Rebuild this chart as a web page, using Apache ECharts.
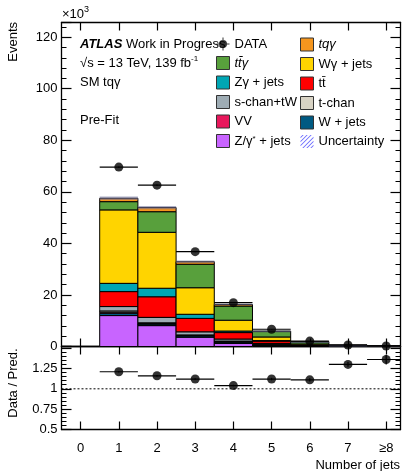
<!DOCTYPE html>
<html><head><meta charset="utf-8">
<script src="https://cdn.jsdelivr.net/npm/echarts@6.0.0/dist/echarts.min.js"></script>
<style>html,body{margin:0;padding:0;background:#fff}#c{width:405px;height:471px}</style>
</head><body><div id="c"></div>
<script>
// ---- data (thousands of events) ----
const bins = [0, 1, 2, 3, 4, 5, 6, 7, 8];
const xTickLabels = ['0', '1', '2', '3', '4', '5', '6', '7', '\u22658'];
const dataEvents = [0, 69.6, 62.6, 36.8, 17.0, 6.7, 2.1, 0.6, 0.2];
const dataErr    = [0, 0.26, 0.25, 0.19, 0.13, 0.08, 0.05, 0.02, 0.01];
const zgammaStarJets = [0, 12.0, 8.1, 3.6, 1.2, 0.4, 0.10, 0.02, 0.01];
const wJets          = [0, 0.9, 0.6, 0.5, 0.5, 0.2, 0.05, 0.01, 0.0];
const vv             = [0, 0.4, 0.2, 0.2, 0.2, 0.1, 0.03, 0.01, 0.0];
const tChan          = [0, 0.5, 0.3, 0.2, 0.2, 0.1, 0.03, 0.01, 0.0];
const sChanTW        = [0, 1.7, 2.1, 1.2, 0.8, 0.4, 0.10, 0.03, 0.01];
const ttbar          = [0, 5.8, 8.0, 5.2, 2.5, 0.9, 0.25, 0.06, 0.02];
const zgammaJets     = [0, 3.2, 3.3, 1.6, 0.6, 0.2, 0.05, 0.01, 0.0];
const wgammaJets     = [0, 28.5, 21.7, 10.3, 4.2, 1.4, 0.35, 0.08, 0.02];
const ttgamma        = [0, 3.2, 8.0, 9.1, 5.5, 2.1, 0.85, 0.21, 0.08];
const tqgamma        = [0, 1.3, 1.6, 1.0, 0.6, 0.2, 0.09, 0.02, 0.01];
const ratio    = [null, 1.21, 1.16, 1.12, 1.04, 1.12, 1.11, 1.30, 1.36];
const ratioErr = [0, 0.01, 0.01, 0.01, 0.01, 0.015, 0.02, 0.03, 0.06];
const mcRelUnc = [0, 0.012, 0.012, 0.014, 0.018, 0.025, 0.04, 0.06, 0.08];
const mainTickLabels = [0, 20, 40, 60, 80, 100, 120];
const ratioTickLabels = [0.5, 0.75, 1, 1.25];

// stack order bottom -> top
const comps = [
  {name: 'Z/\u03b3* + jets', vals: zgammaStarJets, color: '#c864ff'},
  {name: 'W + jets',          vals: wJets,          color: '#005a82'},
  {name: 'VV',                vals: vv,             color: '#e8185c'},
  {name: 't-chan',            vals: tChan,          color: '#d8d3c4'},
  {name: 's-chan+tW',         vals: sChanTW,        color: '#9eacb4'},
  {name: 'tt\u0304',          vals: ttbar,          color: '#ff0000'},
  {name: 'Z\u03b3 + jets',    vals: zgammaJets,     color: '#00a6b4'},
  {name: 'W\u03b3 + jets',    vals: wgammaJets,     color: '#ffd400'},
  {name: 'tt\u0304\u03b3',    vals: ttgamma,        color: '#58a03c'},
  {name: 'tq\u03b3',          vals: tqgamma,        color: '#f5961e'}
];

const FONT = 'Liberation Sans, Arial, Helvetica, sans-serif';
const chart = echarts.init(document.getElementById('c'), null, {renderer: 'canvas'});

function clipTo(rect, cs) {
  return echarts.graphic.clipRectByRect(rect, {x: cs.x, y: cs.y, width: cs.width, height: cs.height});
}
function binRender(params, api) {
  const x = api.value(0), y0 = api.value(1), y1 = api.value(2);
  if (!(y1 > y0)) return null;
  const p0 = api.coord([x - 0.5, y1]);
  const p1 = api.coord([x + 0.5, y0]);
  const r = clipTo({x: p0[0], y: p0[1], width: p1[0] - p0[0], height: p1[1] - p0[1]}, params.coordSys);
  if (!r) return null;
  return {type: 'rect', shape: r, style: {fill: api.visual('color'), stroke: '#000', lineWidth: 1}};
}
function uncRender(params, api) {
  const x = api.value(0), lo = api.value(1), hi = api.value(2);
  if (!(hi > lo)) return null;
  const p0 = api.coord([x - 0.5, hi]);
  const p1 = api.coord([x + 0.5, lo]);
  const r = clipTo({x: p0[0], y: p0[1], width: p1[0] - p0[0], height: Math.max(1.5, p1[1] - p0[1])}, params.coordSys);
  if (!r) return null;
  return {type: 'rect', shape: r, style: {fill: 'rgba(110,110,150,0.55)'}};
}
function errRender(params, api) {
  const x = api.value(0), y = api.value(1), e = api.value(2);
  const cs = params.coordSys;
  const c = api.coord([x, y]);
  let xl = api.coord([x - 0.5, y])[0], xr = api.coord([x + 0.5, y])[0];
  xl = Math.max(xl, cs.x); xr = Math.min(xr, cs.x + cs.width);
  const yt = api.coord([x, y + e])[1], yb = api.coord([x, y - e])[1];
  return {type: 'group', children: [
    {type: 'line', shape: {x1: xl, y1: c[1], x2: xr, y2: c[1]}, style: {stroke: '#000', lineWidth: 1.2}},
    {type: 'line', shape: {x1: c[0], y1: yt, x2: c[0], y2: yb}, style: {stroke: '#000', lineWidth: 1.2}}
  ]};
}

const series = [];
const cum = bins.map(() => 0);
comps.forEach(c => {
  const d = bins.map((b, i) => { const lo = cum[i]; cum[i] += c.vals[i]; return [b, lo, cum[i]]; });
  series.push({name: c.name, type: 'custom', xAxisIndex: 0, yAxisIndex: 0, renderItem: binRender,
    itemStyle: {color: c.color}, encode: {x: 0, y: 2}, data: d, z: 2});
});
series.push({name: 'Uncertainty', type: 'custom', xAxisIndex: 0, yAxisIndex: 0, renderItem: uncRender,
  itemStyle: {color: '#7070ff'}, encode: {x: 0, y: 2},
  data: bins.map((b, i) => [b, cum[i] * (1 - mcRelUnc[i]), cum[i] * (1 + mcRelUnc[i])]), z: 3});
const dataPts = bins.map((b, i) => [b, dataEvents[i], dataErr[i]]).filter(p => p[1] > 0);
series.push({name: 'DATA-err', type: 'custom', xAxisIndex: 0, yAxisIndex: 0, renderItem: errRender,
  encode: {x: 0, y: 1}, data: dataPts, z: 4});
series.push({name: 'DATA', type: 'scatter', xAxisIndex: 0, yAxisIndex: 0, symbol: 'circle', symbolSize: 9,
  itemStyle: {color: '#000'}, data: dataPts.map(p => [p[0], p[1]]), z: 5});
const ratioPts = bins.map((b, i) => [b, ratio[i], ratioErr[i]]).filter(p => p[1] != null);
series.push({name: 'ratio-line', type: 'line', xAxisIndex: 2, yAxisIndex: 2, symbol: 'none', silent: true,
  lineStyle: {color: '#000', width: 1, type: [2, 2]}, data: [[-0.5, 1], [8.375, 1]], z: 1});
series.push({name: 'ratio-err', type: 'custom', xAxisIndex: 2, yAxisIndex: 2, renderItem: errRender,
  encode: {x: 0, y: 1}, data: ratioPts, z: 4});
series.push({name: 'ratio', type: 'scatter', xAxisIndex: 2, yAxisIndex: 2, symbol: 'circle', symbolSize: 9,
  itemStyle: {color: '#000'}, data: ratioPts.map(p => [p[0], p[1]]), z: 5});

const tickVals = bins.slice();
function xAx(gridIndex, pos, showLabels) {
  return {type: 'value', gridIndex, position: pos, min: -0.5, max: 8.375,
    axisLine: {show: true, onZero: false, lineStyle: {color: '#000', width: 1.3}},
    axisTick: {show: true, inside: true, length: 8, customValues: tickVals, lineStyle: {color: '#000', width: 1.2}},
    axisLabel: {show: showLabels, customValues: tickVals, margin: 12, color: '#000', fontSize: 13, fontFamily: FONT,
      formatter: v => xTickLabels[Math.round(v)]},
    splitLine: {show: false}};
}
function yAx(gridIndex, pos, min, max, interval, labels) {
  return {type: 'value', gridIndex, position: pos, min, max, interval,
    axisLine: {show: true, onZero: false, lineStyle: {color: '#000', width: 1.3}},
    axisTick: {show: true, inside: true, length: 10, lineStyle: {color: '#000', width: 1.2}},
    minorTick: {show: true, splitNumber: 5, length: 5, lineStyle: {color: '#000', width: 1}},
    axisLabel: {show: !!labels, showMaxLabel: false, margin: 4, color: '#000', fontSize: 13, fontFamily: FONT,
      formatter: v => (labels && labels.some(l => Math.abs(l - v) < 1e-6)) ? String(v) : ''},
    splitLine: {show: false}, minorSplitLine: {show: false}};
}

const legendText = {
  color: '#000', fontSize: 13, fontFamily: FONT, lineHeight: 13,
  rich: {i: {fontStyle: 'italic', fontSize: 13, fontFamily: FONT, color: '#000', lineHeight: 13},
         sup: {fontSize: 8, fontFamily: FONT, color: '#000', verticalAlign: 'top', padding: [0, 0, 8, 0]}}
};
function fmtName(n) {
  if (n === 'tt\u0304\u03b3' || n === 'tq\u03b3') return '{i|' + n + '}';
  if (n === 'Z/\u03b3* + jets') return 'Z/\u03b3{sup|*} + jets';
  return n;
}
const colorOf = {}; comps.forEach(c => colorOf[c.name] = c.color);
const boxItem = n => ({name: n, icon: 'rect', itemStyle: {color: colorOf[n], borderColor: '#333', borderWidth: 1}});
const dataIcon = 'path://M0,6L13,6L13,7L0,7Z M6,0L7,0L7,13L6,13Z M10.5,6.5A4,4,0,1,1,2.5,6.5A4,4,0,1,1,10.5,6.5Z';
const hatchIcon = 'path://M0,2L2,0L3.2,0L0,3.2Z M0,6L6,0L7.2,0L0,7.2Z M0,10L10,0L11.2,0L0,11.2Z M1.8,13L13,1.8L13,3L3,13Z M5.8,13L13,5.8L13,7L7,13Z M9.8,13L13,9.8L13,11L11,13Z M0,13L0,13L0,13Z M13,0L13,0L13,0Z';

const legendBase = {orient: 'vertical', top: 37.5, itemWidth: 13, itemHeight: 13, itemGap: 5.5, padding: 0,
  textStyle: legendText, formatter: fmtName, selectedMode: false};

const option = {
  animation: false,
  backgroundColor: '#fff',
  textStyle: {fontFamily: FONT},
  grid: [
    {left: 61.5, top: 22.5, width: 339, height: 324},
    {left: 61.5, top: 346.5, width: 339, height: 83}
  ],
  xAxis: [xAx(0, 'bottom', false), xAx(0, 'top', false), xAx(1, 'bottom', true), xAx(1, 'top', false)],
  yAxis: [yAx(0, 'left', 0, 125.7, 20, mainTickLabels), yAx(0, 'right', 0, 125.7, 20, null),
          yAx(1, 'left', 0.5, 1.52, 0.25, ratioTickLabels), yAx(1, 'right', 0.5, 1.52, 0.25, null)],
  legend: [
    Object.assign({}, legendBase, {left: 216,
     data: [{name: 'DATA', icon: dataIcon, itemStyle: {color: '#000', borderWidth: 0}},
            boxItem('tt\u0304\u03b3'), boxItem('Z\u03b3 + jets'), boxItem('s-chan+tW'), boxItem('VV'), boxItem('Z/\u03b3* + jets')]}),
    Object.assign({}, legendBase, {left: 300,
     data: [boxItem('tq\u03b3'), boxItem('W\u03b3 + jets'), boxItem('tt\u0304'), boxItem('t-chan'), boxItem('W + jets'),
            {name: 'Uncertainty', icon: hatchIcon, itemStyle: {color: '#6a6aff', borderWidth: 0}}]})
  ],
  graphic: [
    {type: 'text', x: 62, y: 14, style: {text: '\u00d710{s|3}', fill: '#000', font: '13px ' + FONT, verticalAlign: 'middle',
      rich: {s: {fontSize: 9, fontFamily: FONT, fill: '#000', verticalAlign: 'top', padding: [0, 0, 8, 0]}}}},
    {type: 'text', x: 13, y: 22, rotation: Math.PI / 2, style: {text: 'Events', fill: '#000', font: '13px ' + FONT, align: 'right', verticalAlign: 'middle'}},
    {type: 'text', x: 13, y: 383, rotation: Math.PI / 2, style: {text: 'Data / Pred.', fill: '#000', font: '13px ' + FONT, align: 'center', verticalAlign: 'middle'}},
    {type: 'text', x: 400, y: 465, style: {text: 'Number of jets', fill: '#000', font: '13px ' + FONT, align: 'right', verticalAlign: 'middle'}},
    {type: 'text', x: 80, y: 44, style: {text: '{b|ATLAS} Work in Progress', fill: '#000', font: '13px ' + FONT, verticalAlign: 'middle',
      rich: {b: {fontWeight: 'bold', fontStyle: 'italic', fontSize: 13, fontFamily: FONT, fill: '#000'}}}},
    {type: 'text', x: 80, y: 63, style: {text: '\u221as = 13 TeV, 139 fb{s|-1}', fill: '#000', font: '13px ' + FONT, verticalAlign: 'middle',
      rich: {s: {fontSize: 8, fontFamily: FONT, fill: '#000', verticalAlign: 'top', padding: [0, 0, 8, 0]}}}},
    {type: 'text', x: 80, y: 82, style: {text: 'SM tq\u03b3', fill: '#000', font: '13px ' + FONT, verticalAlign: 'middle'}},
    {type: 'text', x: 80, y: 120, style: {text: 'Pre-Fit', fill: '#000', font: '13px ' + FONT, verticalAlign: 'middle'}}
  ],
  series
};
chart.setOption(option);
</script>
</body></html>
